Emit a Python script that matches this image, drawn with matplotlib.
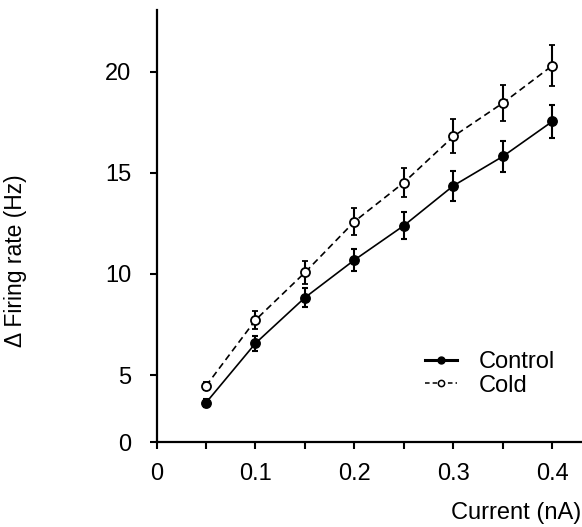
import matplotlib
matplotlib.use("Agg")
import matplotlib.pyplot as plt
from matplotlib.lines import Line2D

plt.rcParams['font.family'] = ['Liberation Sans', 'DejaVu Sans']

current = [0.05, 0.10, 0.15, 0.20, 0.25, 0.30, 0.35, 0.40]
control = [3.63, 6.57, 8.83, 10.69, 12.39, 14.36, 15.81, 17.54]
control_err = [0.2, 0.36, 0.45, 0.54, 0.66, 0.73, 0.78, 0.83]
cold = [4.46, 7.72, 10.07, 12.59, 14.52, 16.80, 18.45, 20.30]
cold_err = [0.2, 0.45, 0.57, 0.68, 0.73, 0.84, 0.88, 1.0]

y_bottom = 1.68  # axis origin is labelled "0" in the original
yticks = [y_bottom, 5, 10, 15, 20]
ytick_labels = ['0', '5', '10', '15', '20']
xticks = [0, 0.05, 0.1, 0.15, 0.2, 0.25, 0.3, 0.35, 0.4]
xtick_labels = ['0', '', '0.1', '', '0.2', '', '0.3', '', '0.4']

fs = 17

fig = plt.figure(figsize=(5.82, 5.27), dpi=100)
ax = fig.add_axes([0.269, 0.161, 0.731, 0.82])

ax.errorbar(current, cold, yerr=cold_err, color='black', lw=1.2,
            dashes=(4, 2.5), marker='o', ms=6.5, mfc='white', mec='black',
            mew=1.3, elinewidth=1.5, capsize=2.5, capthick=1.5, zorder=3)
ax.errorbar(current, control, yerr=control_err, color='black', lw=1.2,
            marker='o', ms=6.8, mfc='black', mec='black', elinewidth=1.5,
            capsize=2.5, capthick=1.5, zorder=4)

ax.set_xlim(0, 0.43)
ax.set_ylim(y_bottom, 23.05)
ax.set_xticks(xticks)
ax.set_xticklabels(xtick_labels)
ax.set_yticks(yticks)
ax.set_yticklabels(ytick_labels)

for s in ['top', 'right']:
    ax.spines[s].set_visible(False)
for s in ['left', 'bottom']:
    ax.spines[s].set_linewidth(1.6)
ax.tick_params(direction='out', length=5, width=1.5, labelsize=fs)
ax.tick_params(axis='y', pad=13)
ax.tick_params(axis='x', pad=10)

ax.set_xlabel('Current (nA)', fontsize=fs, loc='right')
ax.xaxis.set_label_coords(581 / 582, 1 - 513 / 527, transform=fig.transFigure)
ax.xaxis.label.set_va('center')
ax.set_ylabel('\u0394 Firing rate (Hz)', fontsize=16.5)
ax.yaxis.set_label_coords(27 / 582, 1 - 261 / 527, transform=fig.transFigure)

h_control = Line2D([], [], color='black', lw=2.2, marker='o', ms=5)
h_cold = Line2D([], [], color='black', lw=1.1, dashes=(3, 2), marker='o',
                ms=4.5, mfc='white', mew=1.1)
ax.legend([h_control, h_cold], ['Control', 'Cold'], frameon=False,
          fontsize=fs, loc='center left',
          bbox_to_anchor=(425 / 582, 1 - 374 / 527),
          bbox_transform=fig.transFigure, borderaxespad=0, borderpad=0,
          handlelength=1.36, handletextpad=0.9, labelspacing=0.05)

fig.savefig('out.png', dpi=100)
